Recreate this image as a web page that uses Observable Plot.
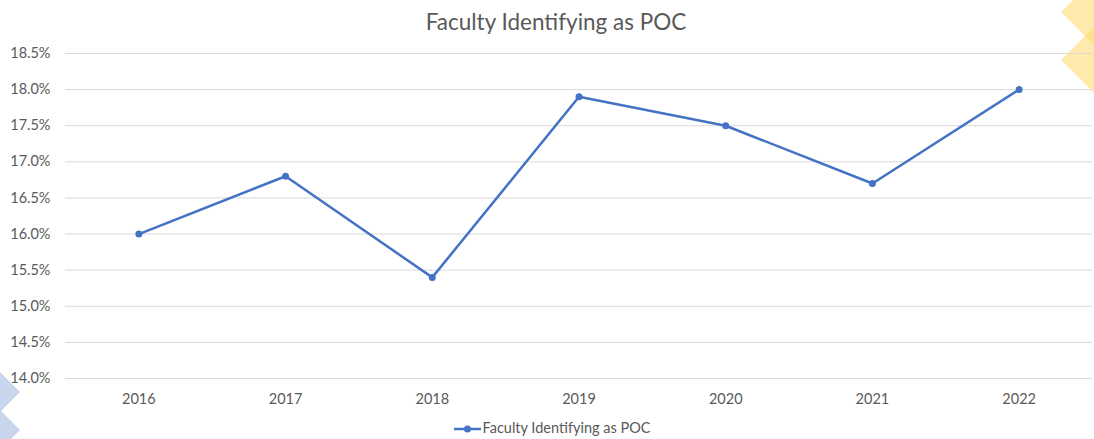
<!DOCTYPE html>
<html>
<head>
<meta charset="utf-8">
<script src="https://cdn.jsdelivr.net/npm/d3@7"></script>
<script src="https://cdn.jsdelivr.net/npm/@observablehq/plot@0.6"></script>
<style>
  html, body { margin: 0; padding: 0; background: #fff; }
  body { width: 1094px; height: 439px; position: relative; overflow: hidden; font-family: Lato, "Open Sans", sans-serif; color: #595959; }
  #title { height: 40px; line-height: 44px; text-align: center; font-size: 22.5px; color: #595959; padding-left: 18px; }
  #legend { position: absolute; left: 0; top: 419px; width: 1094px; box-sizing: border-box; padding-left: 9px; text-align: center; font-size: 14.5px; color: #595959; }
  #legend svg { vertical-align: middle; }
  #deco { position: absolute; left: 0; top: 0; pointer-events: none; }
  #chart { position: relative; }
</style>
</head>
<body>
<svg id="deco" width="1094" height="439">
  <polygon points="1061,12 1094,-21 1127,12 1094,45" fill="#FFD966" fill-opacity="0.55"/>
  <polygon points="1061,60 1094,27 1127,60 1094,93" fill="#FFD966" fill-opacity="0.55"/>
  <polygon points="-20,372 0,372 20,392 0,412 -20,412" fill="#B4C7E7" fill-opacity="0.75"/>
  <polygon points="-20,410 0,410 20,430 0,450 -20,450" fill="#B4C7E7" fill-opacity="0.75"/>
</svg>
<div id="title">Faculty Identifying as POC</div>
<div id="chart"></div>
<div id="legend"><svg width="30" height="12"><line x1="1" y1="6" x2="28" y2="6" stroke="#4472C4" stroke-width="2.5"/><circle cx="14.5" cy="6" r="3.5" fill="#4472C4"/></svg>Faculty Identifying as POC</div>
<script>
const years = ["2016", "2017", "2018", "2019", "2020", "2021", "2022"];
const values = [16.0, 16.8, 15.4, 17.9, 17.5, 16.7, 18.0];
const yTicks = [14.0, 14.5, 15.0, 15.5, 16.0, 16.5, 17.0, 17.5, 18.0, 18.5];

const data = years.map((y, i) => ({year: y, value: values[i]}));

const chart = Plot.plot({
  width: 1094,
  height: 375,
  marginTop: 13,
  marginBottom: 37,
  marginLeft: 65,
  marginRight: 2,
  style: {fontFamily: "Lato, 'Open Sans', sans-serif", fontSize: "14.5px", color: "#595959", background: "transparent"},
  x: {type: "point", domain: years, padding: 0.5, round: false, label: null},
  y: {domain: [14, 18.5], label: null},
  marks: [
    Plot.ruleY(yTicks, {stroke: "#d9d9d9", strokeWidth: 1}),
    Plot.axisY({ticks: yTicks, tickFormat: d => d.toFixed(1) + "%", tickSize: 0, tickPadding: 15, label: null}),
    Plot.axisX({tickSize: 0, tickPadding: 15, label: null}),
    Plot.line(data, {x: "year", y: "value", stroke: "#4472C4", strokeWidth: 2.5}),
    Plot.dot(data, {x: "year", y: "value", r: 3.5, fill: "#4472C4"})
  ]
});
document.getElementById("chart").appendChild(chart);
</script>
</body>
</html>
